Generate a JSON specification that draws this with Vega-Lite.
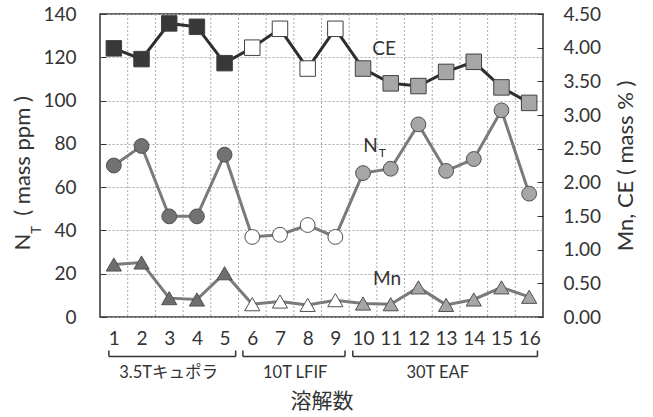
{
  "$schema": "https://vega.github.io/schema/vega-lite/v6.json",
  "autosize": {"type": "none"},
  "width": 443,
  "height": 303,
  "padding": {"left": 100, "top": 14, "right": 110, "bottom": 100},
  "background": "white",
  "config": {
    "view": {"stroke": "#333333", "strokeWidth": 1.5},
    "font": "Lato",
    "axis": {"labelFont": "Lato", "titleFont": "Lato", "labelColor": "#333333", "titleColor": "#333333", "titleFontWeight": "normal", "labelOverlap": false}
  },
  "datasets": {
    "melts": [
      {"n": 1, "grp": "cupola", "NT": 70, "CE": 3.99, "Mn": 0.78},
      {"n": 2, "grp": "cupola", "NT": 79, "CE": 3.83, "Mn": 0.81},
      {"n": 3, "grp": "cupola", "NT": 46.5, "CE": 4.36, "Mn": 0.28},
      {"n": 4, "grp": "cupola", "NT": 46.5, "CE": 4.31, "Mn": 0.26},
      {"n": 5, "grp": "cupola", "NT": 75, "CE": 3.77, "Mn": 0.65},
      {"n": 6, "grp": "lfif", "NT": 37, "CE": 4.0, "Mn": 0.19},
      {"n": 7, "grp": "lfif", "NT": 38, "CE": 4.28, "Mn": 0.23},
      {"n": 8, "grp": "lfif", "NT": 42.5, "CE": 3.69, "Mn": 0.18},
      {"n": 9, "grp": "lfif", "NT": 37, "CE": 4.28, "Mn": 0.25},
      {"n": 10, "grp": "eaf", "NT": 66.5, "CE": 3.69, "Mn": 0.2},
      {"n": 11, "grp": "eaf", "NT": 68.5, "CE": 3.47, "Mn": 0.19},
      {"n": 12, "grp": "eaf", "NT": 89, "CE": 3.43, "Mn": 0.44},
      {"n": 13, "grp": "eaf", "NT": 67.5, "CE": 3.64, "Mn": 0.18},
      {"n": 14, "grp": "eaf", "NT": 73, "CE": 3.79, "Mn": 0.26},
      {"n": 15, "grp": "eaf", "NT": 95.5, "CE": 3.41, "Mn": 0.44},
      {"n": 16, "grp": "eaf", "NT": 57, "CE": 3.18, "Mn": 0.3}
    ],
    "bounds": [
      {"b": 1.5}, {"b": 2.5}, {"b": 3.5}, {"b": 4.5}, {"b": 5.5}, {"b": 6.5}, {"b": 7.5}, {"b": 8.5},
      {"b": 9.5}, {"b": 10.5}, {"b": 11.5}, {"b": 12.5}, {"b": 13.5}, {"b": 14.5}, {"b": 15.5}
    ],
    "groups": [
      {"label": "3.5Tキュポラ", "from": 0.82, "to": 5.4, "mid": 2.98},
      {"label": "10T LFIF", "from": 5.66, "to": 9.35, "mid": 7.55},
      {"label": "30T EAF", "from": 9.63, "to": 16.3, "mid": 12.7}
    ],
    "one": [{}]
  },
  "layer": [
    {
      "layer": [
        {
          "data": {"name": "bounds"},
          "mark": {"type": "rule", "color": "#aaaaaa", "strokeDash": [2, 2], "strokeWidth": 1},
          "encoding": {
            "x": {"field": "b", "type": "quantitative", "scale": {"domain": [0.5, 16.5], "nice": false, "zero": false},
              "axis": {"values": [1,2,3,4,5,6,7,8,9,10,11,12,13,14,15,16], "tickCount": 30, "format": "d", "title": "溶解数", "titleFont": "Noto Sans CJK JP", "titleFontSize": 21, "titlePadding": 42, "labelFontSize": 19, "labelPadding": 12, "ticks": false, "domain": false, "grid": false, "labelFlush": false}}
          }
        },
        {
          "data": {"name": "melts"},
          "mark": {"type": "line", "color": "#7a7a7a", "strokeWidth": 3},
          "encoding": {
            "x": {"field": "n", "type": "quantitative"},
            "y": {"field": "NT", "type": "quantitative", "scale": {"domain": [0, 140], "nice": false},
              "axis": {"values": [0, 20, 40, 60, 80, 100, 120, 140], "tickCount": 30, "format": "d", "title": null, "labelFontSize": 19, "tickSize": -6, "tickColor": "#333333", "labelPadding": 30, "domain": false, "grid": true, "gridColor": "#aaaaaa", "gridDash": [2, 2]}}
          }
        },
        {
          "data": {"name": "melts"},
          "mark": {"type": "point", "shape": "circle", "size": 220, "filled": true, "opacity": 1, "stroke": "#505050", "strokeWidth": 1},
          "encoding": {
            "x": {"field": "n", "type": "quantitative"},
            "y": {"field": "NT", "type": "quantitative"},
            "fill": {"condition": [{"test": "datum.grp === 'cupola'", "value": "#727272"}, {"test": "datum.grp === 'lfif'", "value": "#ffffff"}], "value": "#a6a6a6"}
          }
        },
        {
          "data": {"name": "groups"},
          "mark": {"type": "rule", "color": "#333333", "strokeWidth": 1.5},
          "encoding": {"x": {"field": "from", "type": "quantitative"}, "x2": {"field": "to"}, "y": {"datum": -18.3}}
        },
        {
          "data": {"name": "groups"},
          "mark": {"type": "rule", "color": "#333333", "strokeWidth": 1.5},
          "encoding": {"x": {"field": "from", "type": "quantitative"}, "y": {"datum": -18.3}, "y2": {"datum": -15.5}}
        },
        {
          "data": {"name": "groups"},
          "mark": {"type": "rule", "color": "#333333", "strokeWidth": 1.5},
          "encoding": {"x": {"field": "to", "type": "quantitative"}, "y": {"datum": -18.3}, "y2": {"datum": -15.5}}
        },
        {
          "data": {"name": "groups"},
          "mark": {"type": "text", "font": "Lato, Noto Sans CJK JP", "fontSize": 16.5, "color": "#333333", "align": "center", "baseline": "middle"},
          "encoding": {"x": {"field": "mid", "type": "quantitative"}, "y": {"datum": -25.8}, "text": {"field": "label"}}
        },
        {
          "data": {"name": "one"},
          "mark": {"type": "text", "text": "N", "fontSize": 19, "color": "#333333", "align": "center", "baseline": "middle"},
          "encoding": {"x": {"datum": 10.27}, "y": {"datum": 79}}
        },
        {
          "data": {"name": "one"},
          "mark": {"type": "text", "text": "T", "fontSize": 12, "color": "#333333", "align": "center", "baseline": "middle"},
          "encoding": {"x": {"datum": 10.7}, "y": {"datum": 75.6}}
        },
        {
          "data": {"name": "one"},
          "mark": {"type": "text", "text": "N", "fontSize": 22, "angle": 270, "color": "#333333", "align": "center", "baseline": "middle"},
          "encoding": {"x": {"datum": -2.28}, "y": {"datum": 34.6}}
        },
        {
          "data": {"name": "one"},
          "mark": {"type": "text", "text": "T", "fontSize": 13, "angle": 270, "color": "#333333", "align": "center", "baseline": "middle"},
          "encoding": {"x": {"datum": -1.78}, "y": {"datum": 40.2}}
        },
        {
          "data": {"name": "one"},
          "mark": {"type": "text", "text": "( mass ppm )", "fontSize": 22, "angle": 270, "color": "#333333", "align": "center", "baseline": "middle"},
          "encoding": {"x": {"datum": -2.28}, "y": {"datum": 74.4}}
        }
      ]
    },
    {
      "layer": [
        {
          "data": {"name": "melts"},
          "mark": {"type": "line", "color": "#2e2e2e", "strokeWidth": 3},
          "encoding": {
            "x": {"field": "n", "type": "quantitative"},
            "y": {"field": "CE", "type": "quantitative", "scale": {"domain": [0, 4.5], "nice": false},
              "axis": {"orient": "right", "values": [0, 0.5, 1, 1.5, 2, 2.5, 3, 3.5, 4, 4.5], "tickCount": 30, "format": ".2f", "title": "Mn, CE ( mass % )", "titleAngle": 270, "titleFontSize": 22, "titleX": 82, "titleY": 151.5, "titleAlign": "center", "titleBaseline": "middle", "labelFontSize": 19, "tickSize": -6, "tickColor": "#333333", "labelPadding": 26, "domain": false, "grid": false}}
          }
        },
        {
          "data": {"name": "melts"},
          "mark": {"type": "line", "color": "#7a7a7a", "strokeWidth": 3},
          "encoding": {
            "x": {"field": "n", "type": "quantitative"},
            "y": {"field": "Mn", "type": "quantitative"}
          }
        },
        {
          "data": {"name": "melts"},
          "mark": {"type": "point", "shape": "square", "size": 240, "filled": true, "opacity": 1, "stroke": "#404040", "strokeWidth": 1},
          "encoding": {
            "x": {"field": "n", "type": "quantitative"},
            "y": {"field": "CE", "type": "quantitative"},
            "fill": {"condition": [{"test": "datum.grp === 'cupola'", "value": "#383838"}, {"test": "datum.grp === 'lfif'", "value": "#ffffff"}], "value": "#a6a6a6"}
          }
        },
        {
          "data": {"name": "melts"},
          "mark": {"type": "point", "shape": "triangle-up", "size": 230, "filled": true, "opacity": 1, "stroke": "#505050", "strokeWidth": 1},
          "encoding": {
            "x": {"field": "n", "type": "quantitative"},
            "y": {"field": "Mn", "type": "quantitative"},
            "fill": {"condition": [{"test": "datum.grp === 'cupola'", "value": "#6e6e6e"}, {"test": "datum.grp === 'lfif'", "value": "#ffffff"}], "value": "#a6a6a6"}
          }
        },
        {
          "data": {"name": "one"},
          "mark": {"type": "text", "text": "CE", "fontSize": 19, "color": "#333333", "align": "center", "baseline": "middle"},
          "encoding": {"x": {"datum": 10.76}, "y": {"datum": 3.98}}
        },
        {
          "data": {"name": "one"},
          "mark": {"type": "text", "text": "Mn", "fontSize": 19, "color": "#333333", "align": "center", "baseline": "middle"},
          "encoding": {"x": {"datum": 10.87}, "y": {"datum": 0.557}}
        }
      ]
    }
  ],
  "resolve": {"scale": {"y": "independent"}}
}
